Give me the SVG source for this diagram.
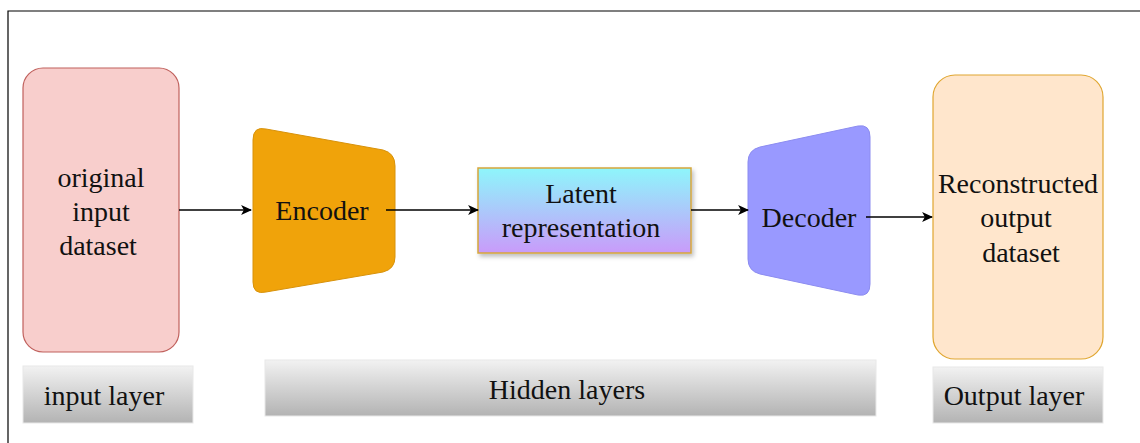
<svg xmlns="http://www.w3.org/2000/svg" width="1140" height="443" viewBox="0 0 1140 443">
<defs>
<linearGradient id="gGray" x1="0" y1="0" x2="0" y2="1"><stop offset="0" stop-color="#f2f2f2"/><stop offset="1" stop-color="#b3b3b3"/></linearGradient>
<linearGradient id="gLatent" x1="0" y1="0" x2="0" y2="1"><stop offset="0" stop-color="#8ef6fb"/><stop offset="1" stop-color="#c99bfa"/></linearGradient>
<filter id="shadow" x="-10%" y="-10%" width="130%" height="140%"><feDropShadow dx="2" dy="3" stdDeviation="2" flood-color="#000" flood-opacity="0.25"/></filter>
<marker id="arr" viewBox="0 0 10 10" refX="9" refY="5" markerWidth="11" markerHeight="11" orient="auto" markerUnits="userSpaceOnUse"><path d="M0,0.5 L10,5 L0,9.5 L2.5,5 Z" fill="#000"/></marker>
</defs>
<style>
text{font-family:"Liberation Serif","Times New Roman",serif;font-size:28px;fill:#111;text-anchor:middle}
.conn{stroke:#000;stroke-width:1.3;fill:none;marker-end:url(#arr)}
.lbl{fill:url(#gGray);stroke:#e8e8e8;stroke-width:1}
</style>
<rect width="1140" height="443" fill="#fff"/>
<path d="M8,443 L8,11 L1140,11" fill="none" stroke="#000" stroke-width="1.2"/>
<g id="input">
<rect x="23" y="68" width="156" height="284" rx="20" fill="#f8cecc" stroke="#c0605c" stroke-width="1.2"/>
<text x="101" y="187">original</text><text x="101" y="221">input</text><text x="98" y="255">dataset</text>
</g>
<g id="encoder">
<path d="M253,140 Q253,126 266,129 L383,150 Q395,153 395,166 L395,257 Q395,269 383,272 L266,292 Q253,295 253,282 Z" fill="#f0a30a" stroke="#d8920a" stroke-width="1"/>
<text x="322" y="220">Encoder</text>
</g>
<g id="latent">
<rect x="478" y="168" width="213" height="85" fill="url(#gLatent)" stroke="#d6a63a" stroke-width="1.5" filter="url(#shadow)"/>
<text x="581" y="203">Latent</text><text x="581" y="237">representation</text>
</g>
<g id="decoder">
<path d="M748,162 Q748,150 760,147 L858,126 Q870,124 870,137 L870,284 Q870,297 858,295 L760,274 Q748,271 748,259 Z" fill="#9999ff" stroke="#8c8cf0" stroke-width="1"/>
<text x="809" y="227">Decoder</text>
</g>
<g id="output">
<rect x="933" y="75" width="170" height="284" rx="22" fill="#ffe6cc" stroke="#e0a630" stroke-width="1.2"/>
<text x="1018" y="193">Reconstructed</text><text x="1016" y="227">output</text><text x="1021" y="262">dataset</text>
</g>
<g id="connectors">
<line class="conn" x1="179" y1="210" x2="251" y2="210"/>
<line class="conn" x1="386" y1="210" x2="478" y2="210"/>
<line class="conn" x1="691" y1="210" x2="748" y2="210"/>
<line class="conn" x1="866" y1="217" x2="932" y2="217"/>
</g>
<g id="label-input">
<rect class="lbl" x="23" y="366" width="170" height="57"/>
<text x="104" y="405">input layer</text>
</g>
<g id="label-hidden">
<rect class="lbl" x="265" y="360" width="611" height="56"/>
<text x="567" y="399">Hidden layers</text>
</g>
<g id="label-output">
<rect class="lbl" x="933" y="367" width="170" height="56"/>
<text x="1014" y="405">Output layer</text>
</g>
</svg>
